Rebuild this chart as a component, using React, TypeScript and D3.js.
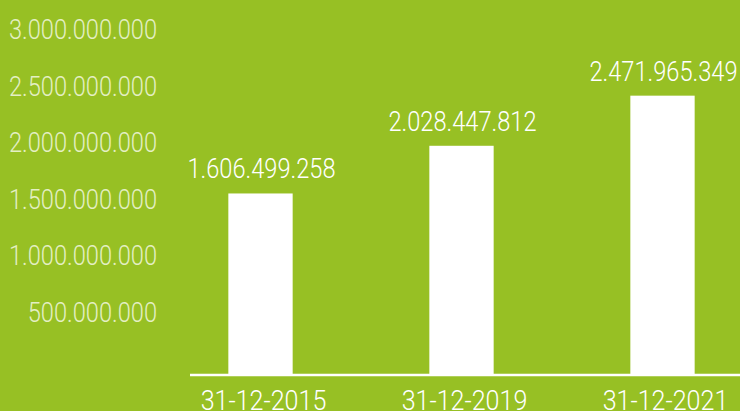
import React from "react";
import * as d3 from "d3";

const categories = ["31-12-2015", "31-12-2019", "31-12-2021"];
const values = [1606499258, 2028447812, 2471965349];
const tickValues = [500000000, 1000000000, 1500000000, 2000000000, 2500000000, 3000000000];

const W = 740;
const H = 411;
const BG = "#97C024";
const FONT = "Roboto, 'Liberation Sans', sans-serif";

const fmt = (v: number) => d3.format(",")(v).replace(/,/g, ".");

export default function App() {
  const x = d3
    .scaleBand<string>()
    .domain(categories)
    .range([160, 763])
    .paddingInner(0.68)
    .paddingOuter(0.34);
  const y = d3.scaleLinear().domain([0, 3000000000]).range([375, 36]);

  const Txt = ({
    tx,
    ty,
    anchor,
    fill,
    size,
    sx,
    children,
  }: {
    tx: number;
    ty: number;
    anchor: string;
    fill: string;
    size: number;
    sx: number;
    children: React.ReactNode;
  }) => (
    <text
      transform={`translate(${tx},${ty}) scale(${sx},1)`}
      textAnchor={anchor}
      fill={fill}
      fontFamily={FONT}
      fontWeight={300}
      fontSize={size}
    >
      {children}
    </text>
  );

  return (
    <svg
      width={W}
      height={H}
      style={{ position: "absolute", left: 0, top: 0, display: "block" }}
    >
      <rect x={0} y={0} width={W} height={H} fill={BG} />
      {tickValues.map((t) => (
        <Txt key={t} tx={157} ty={y(t) + 3} anchor="end" fill="#E4EFC4" size={28.5} sx={0.83}>
          {fmt(t)}
        </Txt>
      ))}
      {categories.map((c, i) => (
        <g key={c}>
          <rect
            x={x(c)}
            y={y(values[i])}
            width={x.bandwidth()}
            height={y(0) - y(values[i])}
            fill="#FFFFFF"
          />
          <Txt
            tx={(x(c) as number) + x.bandwidth() / 2 + 1}
            ty={y(values[i]) - 15}
            anchor="middle"
            fill="#FFFFFF"
            size={28.5}
            sx={0.83}
          >
            {fmt(values[i])}
          </Txt>
          <Txt
            tx={(x(c) as number) + x.bandwidth() / 2 + 3}
            ty={410}
            anchor="middle"
            fill="#FFFFFF"
            size={28.5}
            sx={0.88}
          >
            {c}
          </Txt>
        </g>
      ))}
      <line x1={190} x2={W} y1={y(0)} y2={y(0)} stroke="#FFFFFF" strokeWidth={2.5} />
    </svg>
  );
}
